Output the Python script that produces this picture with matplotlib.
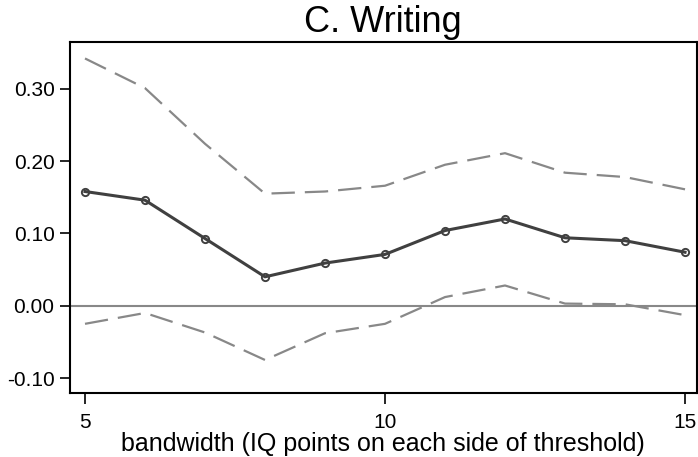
import matplotlib
matplotlib.use("Agg")
import matplotlib.pyplot as plt

# RD estimates for writing scores across bandwidths, with 95% CI bounds
bandwidth = [5, 6, 7, 8, 9, 10, 11, 12, 13, 14, 15]
estimate = [0.158, 0.146, 0.093, 0.040, 0.059, 0.071, 0.104, 0.120, 0.094, 0.090, 0.074]
ci_upper = [0.342, 0.301, 0.224, 0.155, 0.158, 0.166, 0.195, 0.211, 0.184, 0.178, 0.161]
ci_lower = [-0.025, -0.010, -0.037, -0.075, -0.038, -0.025, 0.012, 0.028, 0.003, 0.002, -0.013]

yticks = [-0.10, 0.00, 0.10, 0.20, 0.30]
xticks = [5, 10, 15]


def main():
    plt.rcParams['font.family'] = ['Liberation Sans', 'DejaVu Sans']

    fig = plt.figure(figsize=(6.98, 4.57), dpi=100)
    ax = fig.add_axes([0.0996, 0.140, 0.899, 0.768])

    ax.axhline(0, color='#888888', lw=1.5, zorder=1)
    ax.plot(bandwidth, ci_upper, color='#888888', lw=1.6, dashes=(10.5, 4.5), zorder=2)
    ax.plot(bandwidth, ci_lower, color='#888888', lw=1.6, dashes=(10.5, 4.5), zorder=2)
    ax.plot(bandwidth, estimate, color='#404040', lw=2.2, marker='o', ms=5.2,
            mfc='none', mec='#404040', mew=1.4, zorder=3)

    ax.set_xlim(4.742, 15.2)
    ax.set_ylim(-0.1207, 0.3647)
    ax.set_xticks(xticks)
    ax.set_xticklabels([str(t) for t in xticks])
    ax.set_yticks(yticks)
    ax.set_yticklabels([f'{t:.2f}' for t in yticks])
    ax.tick_params(axis='both', direction='out', width=1.2,
                   labelsize=15, color='black')
    ax.tick_params(axis='x', length=8, pad=6.5)
    ax.tick_params(axis='y', length=7.2, pad=3.6)
    for s in ax.spines.values():
        s.set_linewidth(1.5)
        s.set_color('black')

    ax.set_xlabel('bandwidth (IQ points on each side of threshold)', fontsize=18)
    ax.xaxis.set_label_coords(0.5, -0.1115)
    ax.set_title('C. Writing', fontsize=26, pad=7.5)

    fig.savefig('out.png', dpi=100)


if __name__ == "__main__":
    main()
